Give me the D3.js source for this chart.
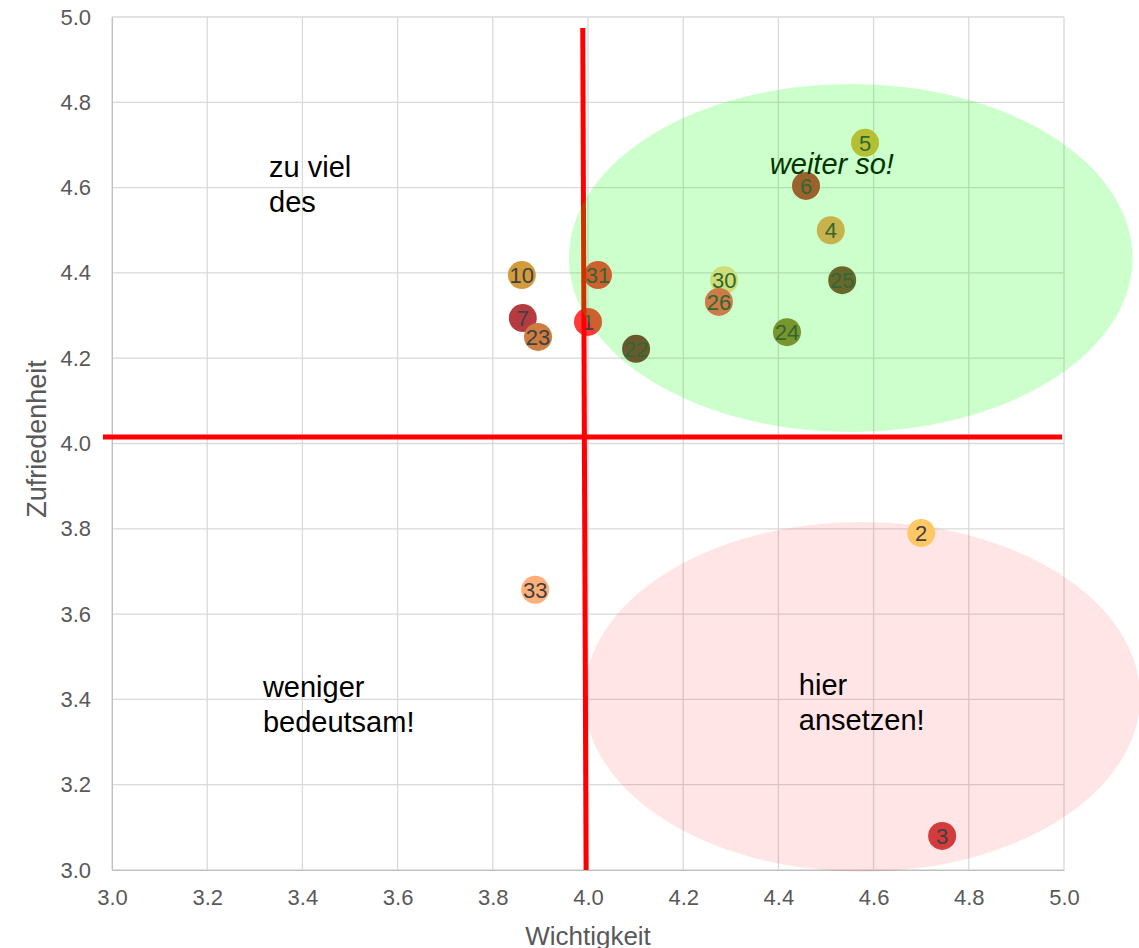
<!DOCTYPE html>
<meta charset="utf-8">
<style>
body {
  margin: 0;
  font-family: "Liberation Sans", Arial, Helvetica;
  background: #fff;
}
.tick text {
  fill: #595959;
  font-size: 22px;
}
.grid line {
  stroke: #d9d9d9;
  stroke-width: 1.3;
}
</style>
<body>
<script src="https://cdn.jsdelivr.net/npm/d3@7"></script>
<script>

var width = 1139,
    height = 948;

var margin = {top: 17, right: 75, bottom: 78, left: 112};

// Data
var ids   = ["5", "6", "4", "31", "10", "30", "25", "26", "7", "1", "23", "24", "22", "2", "33", "3"];
var wicht = [4.582, 4.458, 4.510, 4.021, 3.861, 4.286, 4.534, 4.275, 3.863, 4.000, 3.895, 4.418, 4.101, 4.700, 3.889, 4.744];
var zufr  = [4.705, 4.604, 4.500, 4.395, 4.395, 4.383, 4.383, 4.332, 4.294, 4.285, 4.250, 4.261, 4.222, 3.790, 3.657, 3.080];
var farben = ["#e1b03e", "#c23d38", "#fa9f5e", "#ff3a3a", "#d29b3c", "#ffd693", "#834338", "#ff5c5c",
              "#b43c41", "#ff3a3a", "#cd7d41", "#967c38", "#833138", "#ffc864", "#ffb07a", "#d23c3c"];

var xTicks = [3.0, 3.2, 3.4, 3.6, 3.8, 4.0, 4.2, 4.4, 4.6, 4.8, 5.0];
var yTicks = [3.0, 3.2, 3.4, 3.6, 3.8, 4.0, 4.2, 4.4, 4.6, 4.8, 5.0];

// Quadrant lines (start, end) in data units
var vLine = [[3.989, 4.974], [3.996, 3.0]];
var hLine = [[2.981, 4.015], [4.996, 4.015]];

// Ellipses: cx, cy, rx, ry in data units
var gruen = {cx: 4.552, cy: 4.435, rx: 0.592, ry: 0.408};
var rosa  = {cx: 4.576, cy: 3.406, rx: 0.584, ry: 0.41};

var notizen = [
  {x: 3.330, y: 4.625, lines: ["zu viel", "des"], italic: false},
  {x: 3.317, y: 3.406, lines: ["weniger", "bedeutsam!"], italic: false},
  {x: 4.443, y: 3.410, lines: ["hier", "ansetzen!"], italic: false},
  {x: 4.382, y: 4.632, lines: ["weiter so!"], italic: true}
];

var punkte = ids.map(function(d, i) {
  return {id: d, x: wicht[i], y: zufr[i], color: farben[i]};
});

var svg = d3.select("body").append("svg")
    .attr("width", width)
    .attr("height", height);

var x = d3.scaleLinear()
    .domain([3, 5])
    .range([margin.left, width - margin.right]);

var y = d3.scaleLinear()
    .domain([3, 5])
    .range([height - margin.bottom, margin.top]);

// grid
svg.append("g")
    .attr("class", "grid")
    .selectAll("line.v")
    .data(xTicks)
  .enter().append("line")
    .attr("x1", function(d) { return x(d); })
    .attr("x2", function(d) { return x(d); })
    .attr("y1", y(5))
    .attr("y2", y(3));

svg.append("g")
    .attr("class", "grid")
    .selectAll("line.h")
    .data(yTicks)
  .enter().append("line")
    .attr("y1", function(d) { return y(d); })
    .attr("y2", function(d) { return y(d); })
    .attr("x1", x(3))
    .attr("x2", x(5));

// axes
var xAxis = svg.append("g")
    .attr("transform", "translate(0," + y(3) + ")")
    .call(d3.axisBottom(x).tickValues(xTicks).tickFormat(d3.format(".1f")).tickSize(0).tickPadding(19));
xAxis.select(".domain").attr("stroke", "#bfbfbf");

var yAxis = svg.append("g")
    .attr("transform", "translate(" + x(3) + ",0)")
    .call(d3.axisLeft(y).tickValues(yTicks).tickFormat(d3.format(".1f")).tickSize(0).tickPadding(21));
yAxis.select(".domain").attr("stroke", "#bfbfbf");
xAxis.selectAll(".tick text").attr("font-family", "Liberation Sans");
yAxis.selectAll(".tick text").attr("font-family", "Liberation Sans");

svg.append("text")
    .attr("x", (x(3) + x(5)) / 2)
    .attr("y", 945)
    .attr("text-anchor", "middle")
    .style("font-size", "26px")
    .style("fill", "#595959")
    .text("Wichtigkeit");

svg.append("text")
    .attr("transform", "translate(46," + 439 + ")rotate(-90)")
    .attr("text-anchor", "middle")
    .style("font-size", "27px")
    .style("fill", "#595959")
    .text("Zufriedenheit");

// pink ellipse behind points
svg.append("ellipse")
    .attr("cx", x(rosa.cx))
    .attr("cy", y(rosa.cy))
    .attr("rx", x(rosa.cx + rosa.rx) - x(rosa.cx))
    .attr("ry", y(rosa.cy) - y(rosa.cy + rosa.ry))
    .style("fill", "rgba(255,0,0,0.1)");

// points
var pt = svg.append("g").selectAll("g")
    .data(punkte)
  .enter().append("g")
    .attr("transform", function(d) { return "translate(" + x(d.x) + "," + y(d.y) + ")"; });

pt.append("circle")
    .attr("r", 14)
    .style("fill", function(d) { return d.color; });

pt.append("text")
    .attr("text-anchor", "middle")
    .attr("dy", "0.36em")
    .style("font-size", "22px")
    .style("fill", "#404040")
    .text(function(d) { return d.id; });

// quadrant lines
var line = d3.line()
    .x(function(d) { return x(d[0]); })
    .y(function(d) { return y(d[1]); });

svg.append("path").datum(vLine)
    .attr("d", line)
    .style("stroke", "#ff0000")
    .style("stroke-width", 5);

svg.append("path").datum(hLine)
    .attr("d", line)
    .style("stroke", "#ff0000")
    .style("stroke-width", 5);

// annotations
notizen.forEach(function(n) {
  var t = svg.append("text")
      .attr("x", x(n.x))
      .attr("y", y(n.y))
      .style("font-size", "29px")
      .style("font-style", n.italic ? "italic" : "normal")
      .style("fill", "#000");
  n.lines.forEach(function(l, i) {
    t.append("tspan")
        .attr("x", x(n.x))
        .attr("dy", i === 0 ? 0 : "1.2em")
        .text(l);
  });
});

// green ellipse on top
svg.append("ellipse")
    .attr("cx", x(gruen.cx))
    .attr("cy", y(gruen.cy))
    .attr("rx", x(gruen.cx + gruen.rx) - x(gruen.cx))
    .attr("ry", y(gruen.cy) - y(gruen.cy + gruen.ry))
    .style("fill", "rgba(0,255,0,0.2)");

</script>
